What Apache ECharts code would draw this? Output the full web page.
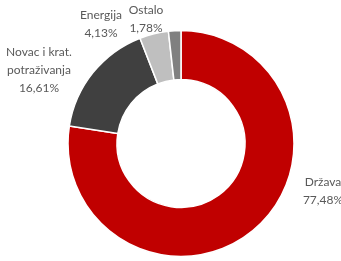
<!DOCTYPE html>
<html>
<head>
<meta charset="utf-8">
<script src="https://cdn.jsdelivr.net/npm/echarts@6/dist/echarts.min.js"></script>
<style>
  html, body { margin: 0; padding: 0; background: #fff; }
  #chart { width: 341px; height: 261px; }
</style>
</head>
<body>
<div id="chart"></div>
<script>
  // struktura portfelja
  var categories = ['Država', 'Novac i krat.\npotraživanja', 'Energija', 'Ostalo'];
  var values = [77.48, 16.61, 4.13, 1.78];
  var colors = ['#c00000', '#404040', '#bfbfbf', '#808080'];
  // label centres (px)
  var labelPos = [[323, 191], [39, 70], [101, 24], [146, 19]];

  var chart = echarts.init(document.getElementById('chart'));

  var seriesData = [];
  for (var i = 0; i < values.length; i++) {
    seriesData.push({
      name: categories[i],
      value: values[i],
      itemStyle: { color: colors[i] }
    });
  }

  chart.setOption({
    animation: false,
    series: [{
      type: 'pie',
      center: [181, 143.5],
      radius: [64, 113],
      startAngle: 90,
      clockwise: true,
      silent: true,
      avoidLabelOverlap: false,
      itemStyle: {
        borderColor: '#fff',
        borderWidth: 1.5
      },
      label: {
        show: true,
        position: 'outside',
        overflow: 'none',
        edgeDistance: 0,
        formatter: function(p) {
          return p.name + '\n' + p.value.toFixed(2).replace('.', ',') + '%';
        },
        fontFamily: 'Lato',
        fontSize: 12,
        lineHeight: 18,
        color: '#595959',
        align: 'center'
      },
      labelLine: { show: false },
      labelLayout: function(params) {
        var pos = labelPos[params.dataIndex];
        return {
          x: pos[0],
          y: pos[1],
          align: 'center',
          verticalAlign: 'middle'
        };
      },
      data: seriesData
    }]
  });
</script>
</body>
</html>
